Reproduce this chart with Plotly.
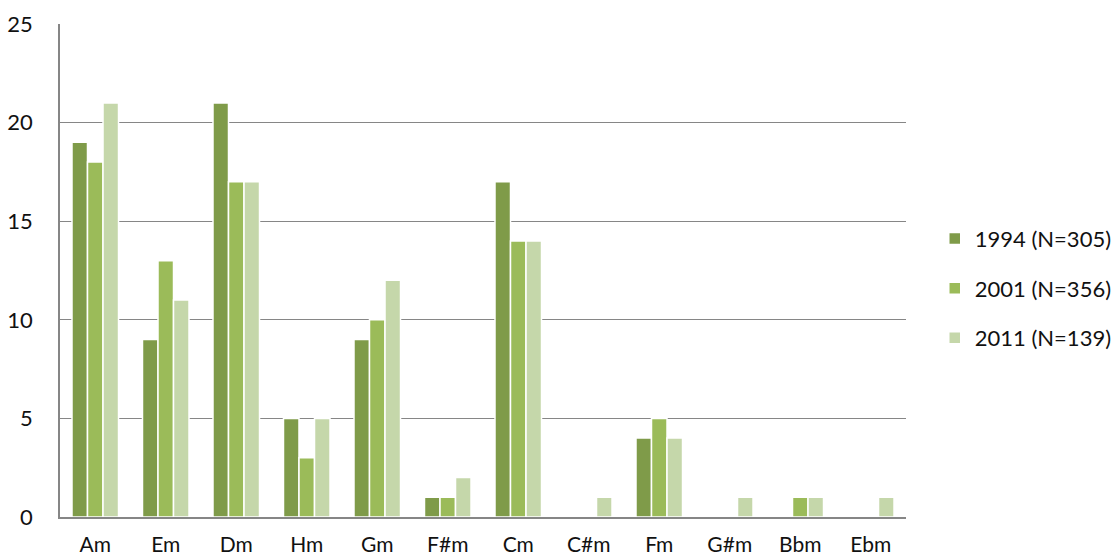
import plotly.graph_objects as go

keys = ["Am", "Em", "Dm", "Hm", "Gm", "F#m", "Cm", "C#m", "Fm", "G#m", "Bbm", "Ebm"]
s1994 = [19, 9, 21, 5, 9, 1, 17, 0, 4, 0, 0, 0]
s2001 = [18, 13, 17, 3, 10, 1, 14, 0, 5, 0, 1, 0]
s2011 = [21, 11, 17, 5, 12, 2, 14, 1, 4, 1, 1, 1]

series = [
    ("1994 (N=305)", s1994, "#7f9b49"),
    ("2001 (N=356)", s2001, "#9bbb59"),
    ("2011 (N=139)", s2011, "#c5d7aa"),
]

fig = go.Figure()
for i, (name, vals, col) in enumerate(series):
    fig.add_trace(go.Bar(
        x=keys, y=vals, name=name, legendgroup=str(i),
        marker=dict(color=col, line=dict(color="white", width=1.5)),
    ))

font = "Lato, 'Open Sans', sans-serif"
fig.update_layout(
    width=1116, height=559,
    margin=dict(l=60, r=210, t=24, b=42, autoexpand=False),
    paper_bgcolor="white", plot_bgcolor="white",
    barmode="group", bargap=0.34, bargroupgap=0,
    font=dict(family=font, size=22, color="#111111"),
    showlegend=True,
    legend=dict(x=1.034, y=0.464, xanchor="left", yanchor="middle",
                traceorder="grouped", tracegroupgap=18,
                font=dict(size=22), itemwidth=30),
    xaxis=dict(showline=True, linecolor="#868686", linewidth=1.5,
               ticks="", ticklabelstandoff=8, showgrid=False,
               tickfont=dict(size=21), automargin=False),
    yaxis=dict(range=[0, 25], dtick=5, showline=True, linecolor="#868686",
               linewidth=1.5, gridcolor="#868686", gridwidth=1.2,
               ticks="", ticklabelstandoff=21, zeroline=False,
               automargin=False),
)

fig.write_html("out.html")
